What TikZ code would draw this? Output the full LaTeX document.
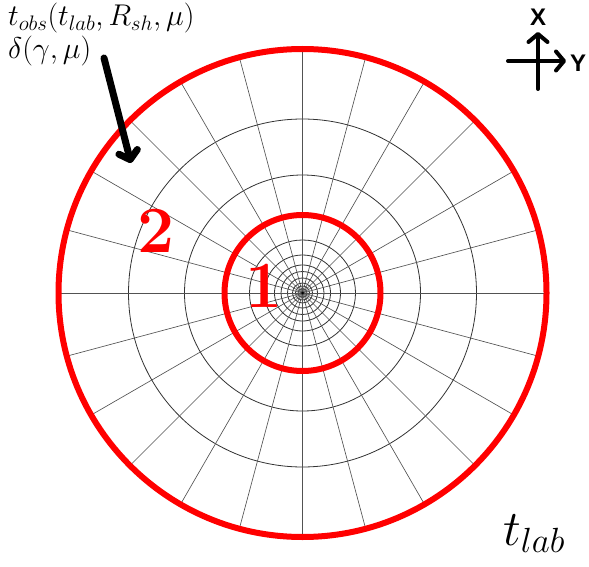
\RequirePackage{fix-cm}
\documentclass[tikz,border=0pt]{standalone}
\usepackage{fontspec}
\newfontfamily\axisfont{Liberation Sans}
\usetikzlibrary{arrows.meta}
\begin{document}
\begin{tikzpicture}[x=1pt,y=-1pt,
  gridc/.style={draw=black!80, line width=0.8pt},
  spoke/.style={draw=black!68, line width=0.65pt},
  redring/.style={draw=red, line width=6pt},
  numlabel/.style={text=red, font=\fontsize{66}{66}\selectfont\bfseries, inner sep=0pt},
  mathlabel/.style={anchor=base west, inner sep=0pt, font=\fontsize{30}{30}\selectfont},
  axislabel/.style={inner sep=0pt, font=\axisfont\bfseries\fontsize{24}{24}\selectfont},
  axisarrow/.style={line width=4pt, line cap=round, -{Straight Barb[length=8pt,width=19pt,round]}},
  bigarrow/.style={line width=7pt, line cap=round, -{Straight Barb[length=8pt,width=19pt,round]}}
]
\useasboundingbox (0,0) rectangle (589,567);
\coordinate (C) at (302.5,293);
% grid circles
\foreach \r in {4.5,7,10,15,21.5,28,38,53,78,118,174}
  \draw[gridc] (C) circle[radius=\r];
% spokes
\foreach \a in {0,15,...,345}
  \draw[spoke] (C) -- ++(\a:244);
\fill[black] (C) circle[radius=1.5];
% red rings
\draw[redring] (C) circle[radius=244];
\draw[redring] (C) circle[radius=78];
% numbers
\node[numlabel] (n2) at (156,231) {2};
\node[numlabel] (n1) at (264,286) {1};
% labels
\node[mathlabel] (tobs) at (8,26) {$t_{obs}(t_{lab},R_{sh},\mu)$};
\node[mathlabel] (delta) at (8,59) {$\delta(\gamma,\mu)$};
\node[anchor=base west, inner sep=0pt, font=\fontsize{50}{50}\selectfont] (tlab) at (503,545) {$t_{lab}$};
% big arrow
\coordinate (as) at (104,58);
\coordinate (ae) at (131,163);
\draw[bigarrow] (as) -- (ae);
% axes symbol
\coordinate (vb) at (538,89);
\coordinate (vt) at (538,32);
\coordinate (hl) at (508,61);
\coordinate (hr) at (566,61);
\draw[axisarrow] (vb) -- (vt);
\draw[axisarrow] (hl) -- (hr);
\node[axislabel] (xl) at (538,17.5) {X};
\node[axislabel] (yl) at (578,63.5) {Y};
\end{tikzpicture}
\end{document}
